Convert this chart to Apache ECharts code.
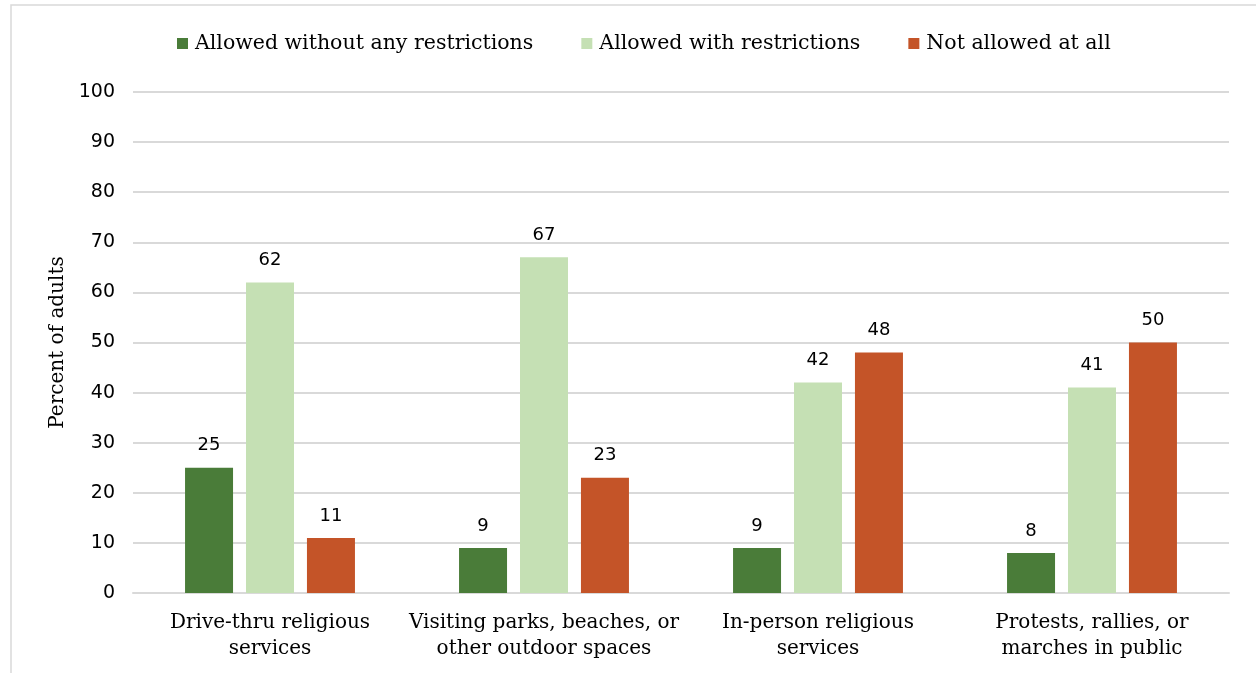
<!DOCTYPE html>
<html>
<head>
<meta charset="utf-8">
<script src="https://cdn.jsdelivr.net/npm/echarts@6/dist/echarts.min.js"></script>
<style>
  html, body { margin: 0; padding: 0; background: #fff; }
  #chart { width: 1256px; height: 673px; }
</style>
</head>
<body>
<div id="chart"></div>
<script>
// Activities and share of adults who say each should be allowed
const categories = [
  'Drive-thru religious\nservices',
  'Visiting parks, beaches, or\nother outdoor spaces',
  'In-person religious\nservices',
  'Protests, rallies, or\nmarches in public'
];
const seriesNames = [
  'Allowed without any restrictions',
  'Allowed with restrictions',
  'Not allowed at all'
];
const withoutRestrictions = [25, 9, 9, 8];
const withRestrictions = [62, 67, 42, 41];
const notAllowed = [11, 23, 48, 50];
const yTicks = { min: 0, max: 100, interval: 10 };

const colors = ['#4a7c39', '#c5e0b4', '#c45428'];
const serif = '"DejaVu Serif", serif';
const sans = '"DejaVu Sans", sans-serif';

const chart = echarts.init(document.getElementById('chart'), null, { renderer: 'canvas' });

const makeSeries = (name, data, color) => ({
  name,
  type: 'bar',
  data,
  barWidth: 48,
  barGap: '27%',
  itemStyle: { color },
  label: {
    show: true,
    position: 'top',
    distance: 13,
    color: '#000',
    fontFamily: sans,
    fontSize: 18
  }
});

chart.setOption({
  animation: false,
  graphic: [{
    type: 'rect',
    shape: { x: 11, y: 5, width: 1400, height: 900 },
    style: { fill: 'none', stroke: '#d9d9d9', lineWidth: 1.5 },
    silent: true
  }],
  color: colors,
  legend: {
    top: 28,
    left: 172,
    itemWidth: 11,
    itemHeight: 11,
    itemGap: 48,
    icon: 'rect',
    textStyle: { fontFamily: serif, fontSize: 20.5, color: '#000', padding: [0, 0, 0, 2] },
    data: seriesNames
  },
  grid: { left: 133, right: 27, top: 92, bottom: 80, containLabel: false },
  xAxis: {
    type: 'category',
    data: categories,
    axisLine: { lineStyle: { color: '#d9d9d9', width: 2 } },
    axisTick: { show: false },
    axisLabel: {
      color: '#000',
      fontFamily: serif,
      fontSize: 20,
      lineHeight: 26,
      margin: 17,
      interval: 0
    }
  },
  yAxis: {
    type: 'value',
    min: yTicks.min,
    max: yTicks.max,
    interval: yTicks.interval,
    name: 'Percent of adults',
    nameLocation: 'middle',
    nameGap: 62,
    nameTextStyle: { fontFamily: serif, fontSize: 20, color: '#000' },
    axisLine: { show: false },
    axisTick: { show: false },
    splitLine: { lineStyle: { color: '#d9d9d9', width: 2 } },
    axisLabel: { color: '#000', fontFamily: sans, fontSize: 19, margin: 18 }
  },
  series: [
    makeSeries(seriesNames[0], withoutRestrictions, colors[0]),
    makeSeries(seriesNames[1], withRestrictions, colors[1]),
    makeSeries(seriesNames[2], notAllowed, colors[2])
  ]
});
</script>
</body>
</html>
